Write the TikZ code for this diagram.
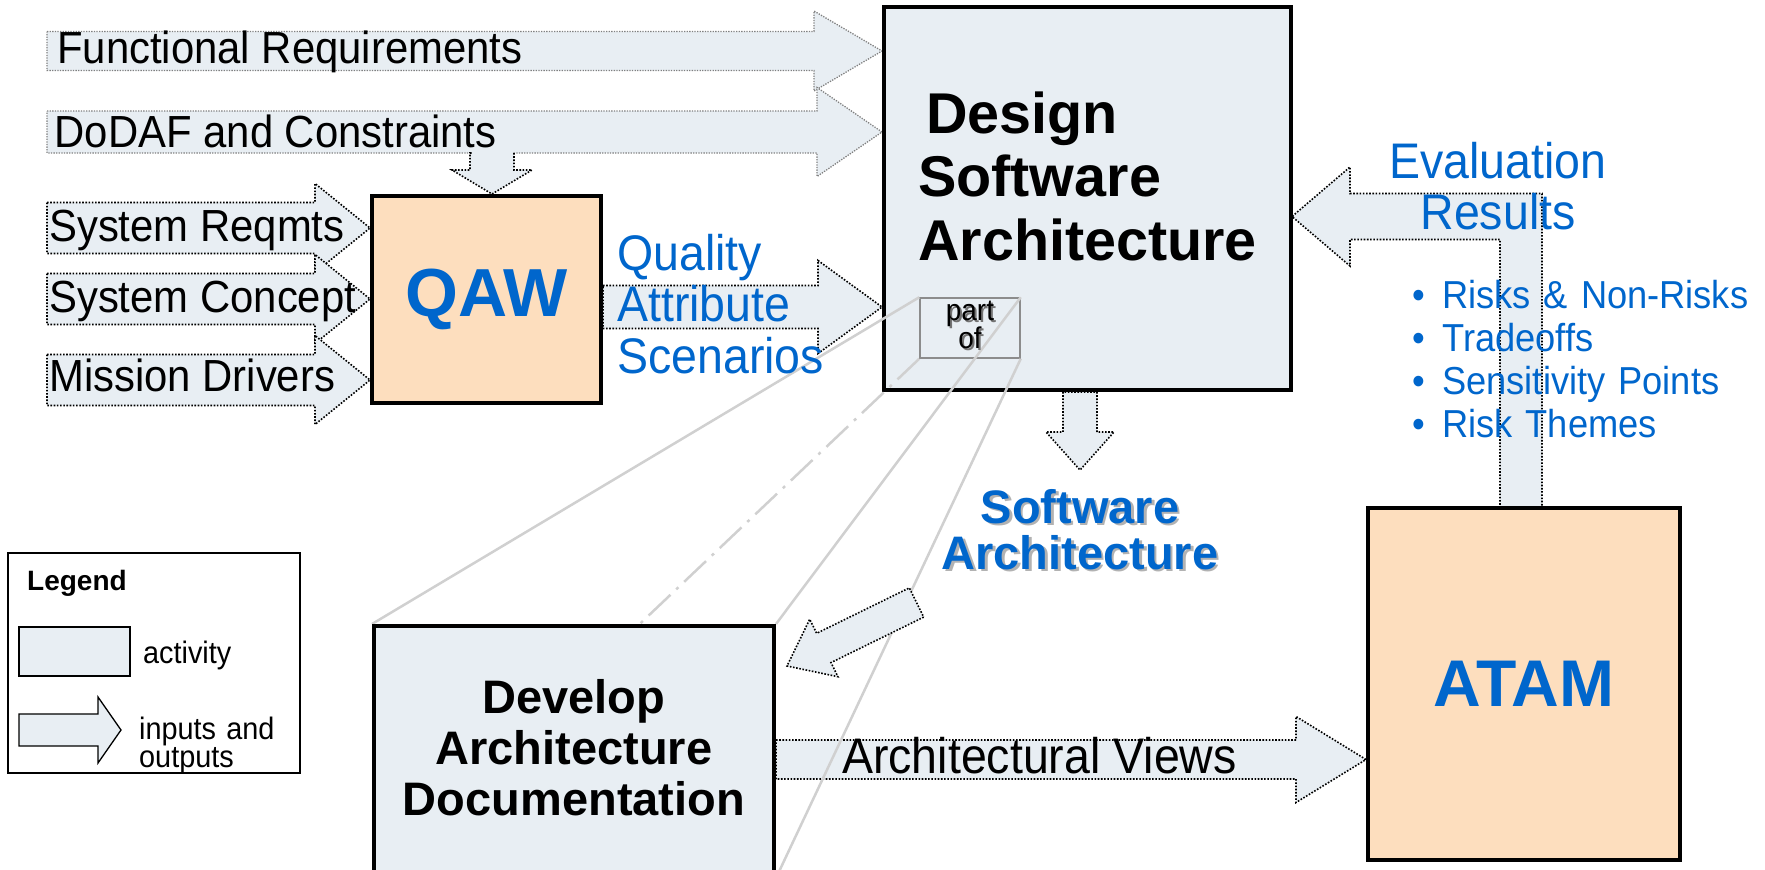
\documentclass[tikz,border=0pt]{standalone}
\usepackage{fontspec}
\setmainfont{Liberation Sans}
\newfontfamily\condfont{Liberation Sans}[FakeStretch=0.93]
\usetikzlibrary{calc}
\pgfdeclarelayer{arrows}
\pgfdeclarelayer{boxes}
\pgfsetlayers{arrows,boxes,main}
\definecolor{actfill}{RGB}{232,238,243}
\definecolor{qafill}{RGB}{253,222,190}
\definecolor{seiblue}{RGB}{0,102,204}
\definecolor{partgray}{RGB}{208,208,208}
\newcommand{\riskitem}{\makebox[30pt][l]{\textbullet}}
% fat arrow: [style]{tail}{tip}{half body}{half head}{head length}
\newcommand{\fatarrow}[6][ioarrow]{%
  \path ($(#3)!#6!(#2)$) coordinate (fa-h);
  \filldraw[#1] ($(#2)!#4!90:(#3)$) -- ($(fa-h)!#4!-90:(#2)$) -- ($(fa-h)!#5!-90:(#2)$) -- (#3)
    -- ($(fa-h)!#5!90:(#2)$) -- ($(fa-h)!#4!90:(#2)$) -- ($(#2)!#4!-90:(#3)$) -- cycle;}

\begin{document}
\begin{tikzpicture}[x=1pt,y=-1pt,
  activity/.style={draw=black,line width=4pt,fill=actfill,inner sep=0pt},
  method/.style={activity,fill=qafill,text=seiblue,font=\bfseries\fontsize{68}{70}\selectfont},
  ioarrow/.style={fill=actfill,draw=black,line width=1.6pt,dash pattern=on 1.6pt off 1.6pt},
  inarrow/.style={ioarrow,draw=black!50,line width=1.3pt,dash pattern=on 1.3pt off 1.3pt},
  keyarrow/.style={fill=actfill,draw=black,line width=1.3pt},
  inlabel/.style={anchor=base west,inner sep=0pt,font=\condfont\fontsize{45}{45}\selectfont},
  outlabel/.style={anchor=base west,inner sep=0pt,text width=260pt,align=left,text=seiblue,font=\condfont\fontsize{50}{51.5}\selectfont},
  boldlabel/.style={anchor=base,inner sep=0pt,text width=400pt,align=center,font=\bfseries\fontsize{47}{51}\selectfont},
  legendtext/.style={anchor=base west,inner sep=0pt,text width=160pt,align=left,font=\condfont\fontsize{31}{28}\selectfont},
  partline/.style={draw=partgray,line width=2.5pt},
]
\useasboundingbox (0,0) rectangle (1765,870);

% activities
\begin{pgfonlayer}{boxes}
\node[activity,minimum width=407pt,minimum height=383pt] (design) at (1087.5,198.5) {};
\node[method,minimum width=229pt,minimum height=207pt] (qaw) at (486.5,299.5) {QAW};
\node[method,minimum width=312pt,minimum height=352pt,font=\bfseries\fontsize{66}{68}\selectfont] (atam) at (1524,684) {ATAM};
\node[draw=black!45,line width=1.5pt,fill=actfill,minimum width=100pt,minimum height=60pt] (partof) at (970,328) {};
\end{pgfonlayer}

% inputs and outputs
\coordinate (frq) at (47,51);
\coordinate (dod) at (47,132);
\coordinate (sysr) at (47,228);
\coordinate (sysc) at (47,299);
\coordinate (mis) at (47,380);
\coordinate (frqtip) at (frq -| design.west);
\coordinate (dodtip) at (dod -| design.west);
\coordinate (sysrtip) at (sysr -| qaw.west);
\coordinate (sysctip) at (sysc -| qaw.west);
\coordinate (mistip) at (mis -| qaw.west);
\coordinate (dodown) at (492,153);
\coordinate (dodowntip) at (dodown |- qaw.north);
\coordinate (qas) at ($(qaw.east)+(0,7.5)$);
\coordinate (qastip) at (qas -| design.west);
\coordinate (sadown) at ($(design.south)+(-7.5,0)$);
\coordinate (sadowntip) at ($(sadown)+(0,78)$);
\begin{pgfonlayer}{arrows}
\fatarrow[inarrow]{frq}{frqtip}{19.5pt}{40pt}{68pt}
\fatarrow[inarrow]{dod}{dodtip}{21pt}{44.5pt}{65pt}
\fatarrow{sysr}{sysrtip}{25.5pt}{44.5pt}{55pt}
\fatarrow{sysc}{sysctip}{25.5pt}{44.5pt}{55pt}
\fatarrow{mis}{mistip}{25.5pt}{44.5pt}{55pt}
\fatarrow{dodown}{dodowntip}{22pt}{40pt}{24pt}
\fill[actfill] (471.5,150.5) rectangle (512.5,156);
\fatarrow{qas}{qastip}{21.5pt}{46.5pt}{64pt}
\fatarrow{sadown}{sadowntip}{17pt}{34pt}{38pt}
\filldraw[ioarrow] (1500,508) -- (1500,239.5) -- (1350,239.5) -- (1350,266) -- (1292,216.5)
  -- (1350,167) -- (1350,193.5) -- (1542,193.5) -- (1542,508) -- cycle;
\end{pgfonlayer}

\node[activity,minimum width=400pt,minimum height=250pt] (develop) at (574,751) {};
\coordinate (views) at ($(develop.east)+(0,8.5)$);
\coordinate (viewstip) at (views -| atam.west);
\begin{pgfonlayer}{arrows}
\fatarrow{views}{viewstip}{19.5pt}{43pt}{70pt}
\end{pgfonlayer}

% part of
\begin{pgfonlayer}{boxes}
\draw[partline] (partof.north west) -- (develop.north west);
\draw[partline] (partof.north east) -- (develop.north east);
\draw[partline] (partof.south east) -- (develop.south east);
\draw[partline,dash pattern=on 30pt off 8pt on 3pt off 8pt] (partof.south west) -- (develop.south west);
\end{pgfonlayer}

\coordinate (satail) at (916.5,602.5);
\coordinate (satip) at (787,666);
\fatarrow{satail}{satip}{16.3pt}{32pt}{41pt}

% labels
\node[inlabel] (frqtext) at (57,63) {Functional Requirements};
\node[inlabel] (dodtext) at (54.5,147) {DoDAF and Constraints};
\node[inlabel] (sysrtext) at (49,241) {System Reqmts};
\node[inlabel] (sysctext) at (49,312) {System Concept};
\node[inlabel] (mistext) at (49,391) {Mission Drivers};
\node[outlabel] (qastext) at (617,270) {Quality\\Attribute\\Scenarios};
\node[outlabel,anchor=base,align=center] (evtext) at (1498,178) {Evaluation\\Results};
\node[outlabel,text width=360pt,font=\condfont\fontsize{39}{43.3}\selectfont] (risks) at (1412,308)
  {\riskitem Risks \& Non-Risks\\\riskitem Tradeoffs\\\riskitem Sensitivity Points\\\riskitem Risk Themes};
\node[boldlabel,anchor=base west,align=left,font=\bfseries\fontsize{57.5}{63.5}\selectfont] (designtext) at (918,133)
  {\hspace*{8pt}Design\\Software\\Architecture};
\node[anchor=base,inner sep=0pt,text width=90pt,align=center,text=black!55,font=\condfont\fontsize{30}{28}\selectfont] at (972,322) {part\\of};
\node[anchor=base,inner sep=0pt,text width=90pt,align=center,font=\condfont\fontsize{30}{28}\selectfont] (partoftext) at (970,320) {part\\of};
\node[boldlabel,text=black!30,font=\bfseries\fontsize{47}{46}\selectfont] at (1082.5,525.5) {Software\\Architecture};
\node[boldlabel,text=seiblue,font=\bfseries\fontsize{47}{46}\selectfont] (satext) at (1080,523) {Software\\Architecture};
\node[boldlabel] (developtext) at (574,713) {Develop\\Architecture\\Documentation};
\node[inlabel,font=\condfont\fontsize{50}{50}\selectfont] (viewstext) at (842,773) {Architectural Views};

% legend
\node[draw=black,line width=1.3pt,minimum width=292pt,minimum height=220pt] (legend) at (154,663) {};
\node[anchor=base west,inner sep=0pt,font=\bfseries\fontsize{28}{28}\selectfont] (legendtitle) at (27,590) {Legend};
\node[draw=black,line width=2pt,fill=actfill,minimum width=111pt,minimum height=49pt] (keybox) at (74.5,651.5) {};
\node[legendtext] (keyboxtext) at (143,663) {activity};
\coordinate (keytail) at (19,730);
\coordinate (keytip) at (121,730);
\fatarrow[keyarrow]{keytail}{keytip}{16pt}{33pt}{23pt}
\node[legendtext] (keyarrowtext) at (139,739) {inputs and\\outputs};
\end{tikzpicture}
\end{document}
